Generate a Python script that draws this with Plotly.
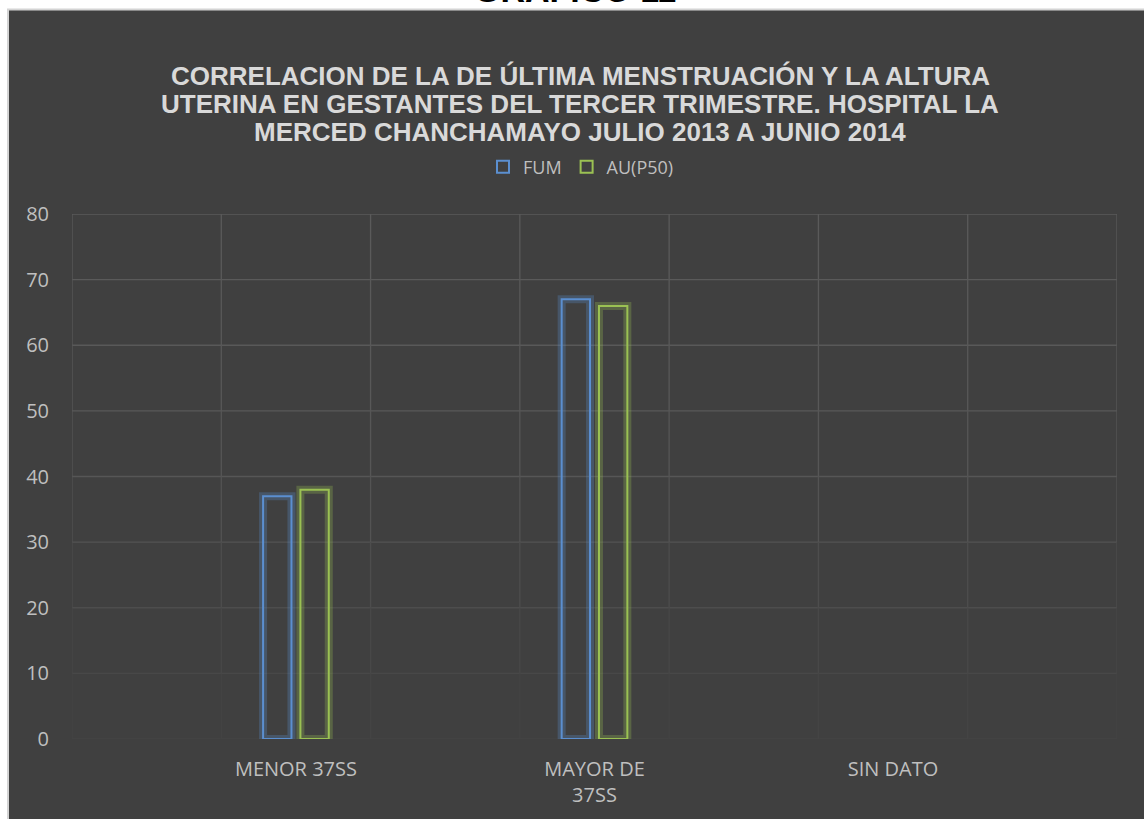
import plotly.graph_objects as go

categories = ["MENOR 37SS", "MAYOR DE<br>37SS", "SIN DATO"]
fum = [37, 67, None]
au_p50 = [38, 66, None]
series_names = ["FUM", "AU(P50)"]
y_ticks = [0, 10, 20, 30, 40, 50, 60, 70, 80]
title_lines = [
    "CORRELACION DE LA DE ÚLTIMA MENSTRUACIÓN Y LA ALTURA",
    "UTERINA EN GESTANTES DEL TERCER TRIMESTRE. HOSPITAL LA",
    "MERCED CHANCHAMAYO JULIO 2013 A JUNIO 2014",
]
page_heading = "GRAFICO 11"

W, H = 1144, 819
ML, MR, MT, MB = 72, 27, 214, 80
PW, PH = W - ML - MR, H - MT - MB

def px_x(p):
    return (p - ML) / PW

def px_y(p):
    return (H - MB - p) / PH

xpos = [2 * i + 1.5 for i in range(len(categories))]

blue = "#5B8FD0"
green = "#9BC153"
bw = 0.19

fig = go.Figure()
for vals, col, off in [(fum, "rgba(91,143,208,0.28)", -0.22), (au_p50, "rgba(155,193,83,0.28)", 0.03)]:
    fig.add_trace(go.Bar(x=xpos, y=vals, width=bw, offset=off,
                         marker=dict(color="rgba(0,0,0,0)", line=dict(color=col, width=8)),
                         showlegend=False, hoverinfo="skip"))
fig.add_trace(go.Bar(x=xpos, y=fum, name=series_names[0], width=bw, offset=-0.22,
                     marker=dict(color="rgba(0,0,0,0)", line=dict(color=blue, width=2))))
fig.add_trace(go.Bar(x=xpos, y=au_p50, name=series_names[1], width=bw, offset=0.03,
                     marker=dict(color="rgba(0,0,0,0)", line=dict(color=green, width=2))))

shade = {0: "#444444", 10: "#484848", 20: "#4d4d4d", 30: "#535353", 40: "#565656",
         50: "#585858", 60: "#595959", 70: "#5a5a5a", 80: "#5a5a5a"}

shapes = [
    dict(type="rect", xref="paper", yref="paper", layer="below",
         x0=px_x(8), x1=px_x(1160), y0=px_y(830), y1=px_y(9.5),
         fillcolor="#404040", line=dict(color="#d4d4d4", width=2)),
]
for t in y_ticks:
    shapes.append(dict(type="line", xref="paper", yref="y", layer="below",
                       x0=0, x1=1, y0=t, y1=t, line=dict(color=shade[t], width=1.3)))
for gx in range(0, 8):
    for k in range(0, 80, 10):
        shapes.append(dict(type="line", xref="x", yref="y", layer="below",
                           x0=gx, x1=gx, y0=k, y1=k + 10,
                           line=dict(color=shade[k], width=1.3)))

annotations = [
    dict(text="<b>%s</b>" % page_heading, xref="paper", yref="paper",
         x=px_x(575), y=px_y(10.5), xanchor="center", yanchor="bottom",
         showarrow=False, font=dict(family="Liberation Sans", size=34, color="black")),
]
for i, line in enumerate(title_lines):
    annotations.append(dict(text="<b>%s</b>" % line, xref="paper", yref="paper",
                            x=px_x(580), y=px_y(76 + 28 * i), xanchor="center", yanchor="middle",
                            showarrow=False,
                            font=dict(family="Liberation Sans", size=26, color="#d9d9d9")))

fig.update_layout(
    width=W, height=H,
    margin=dict(l=ML, r=MR, t=MT, b=MB),
    paper_bgcolor="white",
    plot_bgcolor="rgba(0,0,0,0)",
    barmode="overlay",
    font=dict(family="Open Sans", color="#bfbfbf", size=18),
    legend=dict(orientation="h", x=px_x(581), xanchor="center", y=px_y(167), yanchor="middle",
                font=dict(size=18, color="#bfbfbf"), bgcolor="rgba(0,0,0,0)",
                itemwidth=30, traceorder="normal"),
    xaxis=dict(range=[0, 7], tickmode="array", tickvals=xpos, ticktext=categories,
               showgrid=False, zeroline=False, showline=False, ticks="",
               ticklabelstandoff=16, tickfont=dict(size=20, color="#bfbfbf")),
    yaxis=dict(range=[0, 80], tickmode="array", tickvals=y_ticks,
               showgrid=False, zeroline=False,
               ticks="", ticklabelstandoff=22, tickfont=dict(size=20, color="#bfbfbf")),
    shapes=shapes,
    annotations=annotations,
)

fig.write_html("out.html")
